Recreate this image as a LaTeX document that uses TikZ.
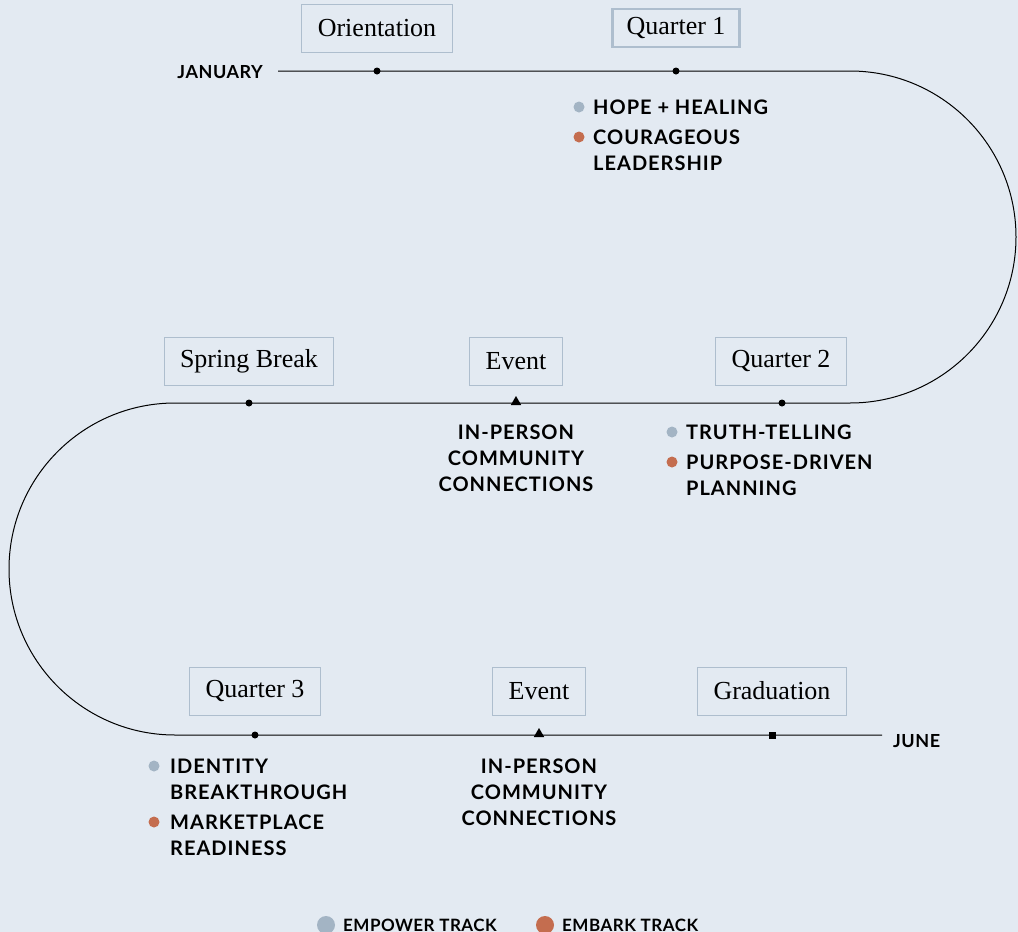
\documentclass[tikz,border=0pt]{standalone}
\usepackage{fontspec}
\usepackage{xcolor}
\setmainfont{Liberation Serif}
\newfontfamily\tagfont[LetterSpace=3]{Lato}
\newfontfamily\topicfont[LetterSpace=5]{Lato}
\usetikzlibrary{shapes.geometric}

\definecolor{bgblue}{HTML}{E3EAF2}
\definecolor{boxline}{HTML}{AEBECE}
\definecolor{empower}{HTML}{A3B4C4}
\definecolor{embark}{HTML}{C46D4F}

\tikzset{
  timeline/.style={line width=1pt, black},
  phase/.style={draw=boxline, line width=1pt, fill=bgblue, minimum height=48pt,
    inner xsep=16pt, font=\fontsize{26}{26}\selectfont},
  current/.style={phase, line width=2.2pt, minimum height=38pt, inner xsep=14pt},
  dotmark/.style={circle, fill=black, inner sep=0pt, minimum size=7pt},
  trimark/.style={regular polygon, regular polygon sides=3, fill=black, inner sep=0pt, minimum size=12pt},
  sqmark/.style={rectangle, fill=black, inner sep=0pt, minimum size=7pt},
  bullet/.style={circle, inner sep=0pt, minimum size=11pt},
  tag/.style={inner sep=0pt, font=\topicfont\bfseries\fontsize{20}{26}\selectfont},
  month/.style={inner sep=0pt, font=\tagfont\bfseries\fontsize{18}{20}\selectfont},
  legendtext/.style={inner sep=0pt, font=\tagfont\bfseries\fontsize{17}{20}\selectfont},
}

\begin{document}
\begin{tikzpicture}[x=1pt, y=-1pt]
  \useasboundingbox[fill=bgblue] (0,0) rectangle (1018,932);

  % months and the path between them
  \node[month, anchor=east] (jan) at (263,72) {JANUARY};
  \node[month, anchor=west] (june) at (893,741) {JUNE};
  \coordinate (jan-start) at (278,71);
  \coordinate (topR) at (850,71);
  \coordinate (midL) at (175,403);
  \coordinate (june-end) at (882,735);
  \draw[timeline] (jan-start) -- (topR)
    arc[start angle=90, end angle=-90, radius=166pt] -- (midL)
    arc[start angle=90, end angle=270, radius=166pt] -- (june-end);

  % markers
  \node[dotmark] (m-orient) at (377,71) {};
  \node[dotmark] (m-q1) at (676,71) {};
  \node[dotmark] (m-spring) at (249,403) {};
  \node[trimark] (m-event1) at (516,402) {};
  \node[dotmark] (m-q2) at (782,403) {};
  \node[dotmark] (m-q3) at (255,735) {};
  \node[trimark] (m-event2) at (539,734) {};
  \node[sqmark] (m-grad) at (772,735) {};

  % boxes
  \node[phase] (orient) at (377,28) {Orientation};
  \node[current] (q1) at (676,28) {Quarter 1};
  \node[phase] (spring) at (249,361) {Spring Break};
  \node[phase] (event1) at (516,361) {Event};
  \node[phase] (q2) at (781,361) {Quarter 2};
  \node[phase] (q3) at (255,691) {Quarter 3};
  \node[phase] (event2) at (539,691) {Event};
  \node[phase] (grad) at (772,691) {Graduation};

  % quarter 1 topics
  \node[bullet, fill=empower] (q1-a) at (579,107) {};
  \node[tag, anchor=west] (q1-ta) at (593,107) {HOPE + HEALING};
  \node[bullet, fill=embark] (q1-b) at (579,137) {};
  \node[tag, anchor=north west, align=left] (q1-tb) at (593,130) {COURAGEOUS\\LEADERSHIP};

  % quarter 2 topics
  \node[bullet, fill=empower] (q2-a) at (672,432) {};
  \node[tag, anchor=west] (q2-ta) at (686,432) {TRUTH-TELLING};
  \node[bullet, fill=embark] (q2-b) at (672,462) {};
  \node[tag, anchor=north west, align=left] (q2-tb) at (686,455) {PURPOSE-DRIVEN\\PLANNING};

  % quarter 3 topics
  \node[bullet, fill=empower] (q3-a) at (154,766) {};
  \node[tag, anchor=north west, align=left] (q3-ta) at (170,759) {IDENTITY\\BREAKTHROUGH};
  \node[bullet, fill=embark] (q3-b) at (154,822) {};
  \node[tag, anchor=north west, align=left] (q3-tb) at (170,815) {MARKETPLACE\\READINESS};

  % events
  \node[tag, anchor=north, align=center] (event1-t) at (516,425) {IN-PERSON\\COMMUNITY\\CONNECTIONS};
  \node[tag, anchor=north, align=center] (event2-t) at (539,759) {IN-PERSON\\COMMUNITY\\CONNECTIONS};

  % legend
  \node[bullet, fill=empower, minimum size=18pt] (leg-a) at (326,925) {};
  \node[legendtext, anchor=west] (leg-ta) at (343,925) {EMPOWER TRACK};
  \node[bullet, fill=embark, minimum size=18pt] (leg-b) at (545,925) {};
  \node[legendtext, anchor=west] (leg-tb) at (562,925) {EMBARK TRACK};
\end{tikzpicture}
\end{document}
